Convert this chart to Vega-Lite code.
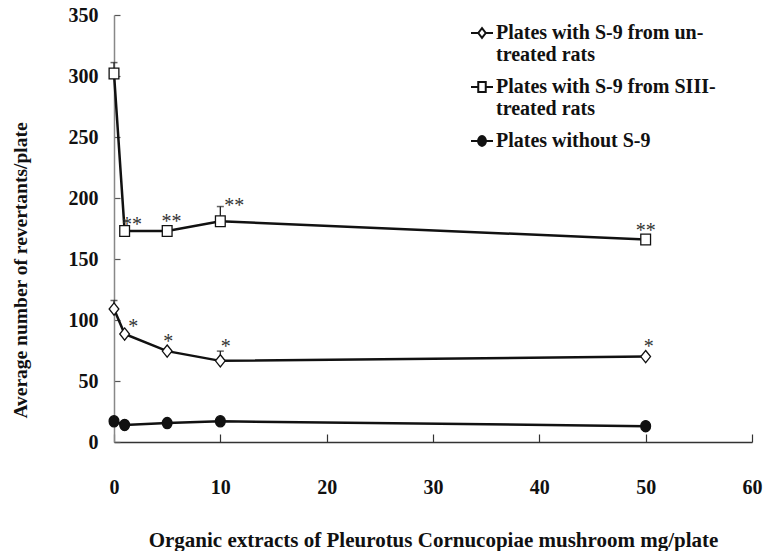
{
  "$schema": "https://vega.github.io/schema/vega-lite/v6.json",
  "width": 638,
  "height": 427,
  "autosize": "none",
  "padding": {"left": 114, "top": 15, "right": 11, "bottom": 109},
  "background": "white",
  "config": {
    "view": {"stroke": null},
    "font": "Liberation Serif",
    "legend": {
      "orient": "none",
      "legendX": 356,
      "legendY": 6,
      "padding": 0,
      "labelFont": "Liberation Serif",
      "labelFontSize": 20,
      "labelFontWeight": "bold",
      "labelColor": "#111",
      "labelLimit": 0,
      "labelOffset": 2,
      "symbolSize": 484,
      "symbolStrokeWidth": 2,
      "symbolStrokeColor": "#111",
      "rowPadding": 10
    }
  },
  "datasets": {
    "pts": [
      {"dose": 0, "rev": 109, "err": 116, "series": "Plates with S-9 from untreated rats"},
      {"dose": 1, "rev": 88.5, "series": "Plates with S-9 from untreated rats"},
      {"dose": 5, "rev": 74.5, "series": "Plates with S-9 from untreated rats"},
      {"dose": 10, "rev": 66.5, "err": 74.5, "series": "Plates with S-9 from untreated rats"},
      {"dose": 50, "rev": 70, "series": "Plates with S-9 from untreated rats"},
      {"dose": 0, "rev": 302, "err": 311, "series": "Plates with S-9 from SIII-treated rats"},
      {"dose": 1, "rev": 173, "series": "Plates with S-9 from SIII-treated rats"},
      {"dose": 5, "rev": 173, "series": "Plates with S-9 from SIII-treated rats"},
      {"dose": 10, "rev": 181, "err": 193, "series": "Plates with S-9 from SIII-treated rats"},
      {"dose": 50, "rev": 166, "series": "Plates with S-9 from SIII-treated rats"},
      {"dose": 0, "rev": 17, "series": "Plates without S-9"},
      {"dose": 1, "rev": 14, "series": "Plates without S-9"},
      {"dose": 5, "rev": 15.5, "series": "Plates without S-9"},
      {"dose": 10, "rev": 17, "series": "Plates without S-9"},
      {"dose": 50, "rev": 13, "series": "Plates without S-9"}
    ],
    "stars": [
      {"dose": 1.7, "rev": 181, "sig": "**"},
      {"dose": 5.4, "rev": 184, "sig": "**"},
      {"dose": 11.3, "rev": 197, "sig": "**"},
      {"dose": 50, "rev": 176, "sig": "**"},
      {"dose": 1.8, "rev": 97.5, "sig": "*"},
      {"dose": 5.1, "rev": 85, "sig": "*"},
      {"dose": 10.5, "rev": 81, "sig": "*"},
      {"dose": 50.3, "rev": 81, "sig": "*"}
    ]
  },
  "layer": [
    {
      "data": {"name": "pts"},
      "mark": {"type": "line", "stroke": "#111", "strokeWidth": 2.5},
      "encoding": {
        "x": {
          "field": "dose", "type": "quantitative",
          "scale": {"domain": [0, 60], "nice": false, "zero": false},
          "axis": {
            "values": [0, 10, 20, 30, 40, 50, 60],
            "grid": false,
            "domainColor": "#333", "domainWidth": 1.5,
            "tickColor": "#333", "tickWidth": 1.2, "tickSize": -8,
            "labelFont": "Liberation Serif", "labelFontSize": 20, "labelFontWeight": "bold", "labelColor": "#111",
            "labelPadding": 43, "labelFlush": false,
            "title": "Organic extracts of Pleurotus Cornucopiae mushroom mg/plate",
            "titleFont": "Liberation Serif", "titleFontSize": 21, "titleFontWeight": "bold", "titleColor": "#111",
            "titleY": 98, "titleBaseline": "middle"
          }
        },
        "y": {
          "field": "rev", "type": "quantitative",
          "scale": {"domain": [0, 350], "nice": false},
          "axis": {
            "values": [0, 50, 100, 150, 200, 250, 300, 350],
            "grid": false,
            "domainColor": "#888", "domainWidth": 1.5,
            "tickColor": "#555", "tickWidth": 1.2, "tickSize": -6,
            "labelFont": "Liberation Serif", "labelFontSize": 20, "labelFontWeight": "bold", "labelColor": "#111",
            "labelPadding": 22,
            "title": "Average number of revertants/plate",
            "titleFont": "Liberation Serif", "titleFontSize": 19.5, "titleFontWeight": "bold", "titleColor": "#111",
            "titleX": -94, "titleY": 255, "titleAlign": "center", "titleBaseline": "middle"
          }
        },
        "detail": {"field": "series"}
      }
    },
    {
      "data": {"name": "pts"},
      "transform": [{"filter": "isValid(datum.err)"}],
      "mark": {"type": "rule", "stroke": "#222", "strokeWidth": 1.3},
      "encoding": {
        "x": {"field": "dose", "type": "quantitative"},
        "y": {"field": "rev", "type": "quantitative"},
        "y2": {"field": "err"}
      }
    },
    {
      "data": {"name": "pts"},
      "transform": [{"filter": "isValid(datum.err)"}],
      "mark": {"type": "tick", "orient": "horizontal", "color": "#222", "size": 7, "thickness": 1.5},
      "encoding": {
        "x": {"field": "dose", "type": "quantitative"},
        "y": {"field": "err", "type": "quantitative"}
      }
    },
    {
      "data": {"name": "pts"},
      "mark": {"type": "point", "size": 95, "strokeWidth": 1.3, "stroke": "#111", "opacity": 1},
      "encoding": {
        "x": {"field": "dose", "type": "quantitative"},
        "y": {"field": "rev", "type": "quantitative"},
        "shape": {
          "field": "series", "type": "nominal",
          "scale": {
            "domain": ["Plates with S-9 from untreated rats", "Plates with S-9 from SIII-treated rats", "Plates without S-9"],
            "range": ["M0,-1.25L1,0L0,1.25L-1,0Z", "M-1,-1.1H1V1.1H-1Z", "M-1,0A1,1.15,0,1,0,1,0A1,1.15,0,1,0,-1,0Z"]
          },
          "legend": null
        },
        "fill": {
          "field": "series", "type": "nominal",
          "scale": {
            "domain": ["Plates with S-9 from untreated rats", "Plates with S-9 from SIII-treated rats", "Plates without S-9"],
            "range": ["white", "white", "#111"]
          },
          "legend": null
        }
      }
    },
    {
      "data": {"name": "pts"},
      "transform": [{"filter": "false"}],
      "mark": {"type": "point", "stroke": "#111", "strokeWidth": 2, "opacity": 1},
      "encoding": {
        "x": {"field": "dose", "type": "quantitative"},
        "y": {"field": "rev", "type": "quantitative"},
        "shape": {
          "field": "series", "type": "nominal",
          "scale": {
            "domain": ["Plates with S-9 from untreated rats", "Plates with S-9 from SIII-treated rats", "Plates without S-9"],
            "range": [
              "M-1,0H-0.34M0.34,0H1M0,-0.45L0.34,0L0,0.45L-0.34,0Z",
              "M-1,0H-0.34M0.34,0H1M-0.34,-0.45H0.34V0.45H-0.34Z",
              "M-1,0H1M-0.36,0A0.36,0.45,0,1,0,0.36,0A0.36,0.45,0,1,0,-0.36,0ZM-0.27,0A0.27,0.34,0,1,0,0.27,0A0.27,0.34,0,1,0,-0.27,0ZM-0.18,0A0.18,0.23,0,1,0,0.18,0A0.18,0.23,0,1,0,-0.18,0ZM-0.09,0A0.09,0.12,0,1,0,0.09,0A0.09,0.12,0,1,0,-0.09,0Z"
            ]
          },
          "legend": {
            "title": null,
            "labelExpr": "datum.label == 'Plates with S-9 from untreated rats' ? ['Plates with S-9 from un-', 'treated rats'] : datum.label == 'Plates with S-9 from SIII-treated rats' ? ['\u00a0Plates with S-9 from SIII-', 'treated rats'] : datum.label",
            "symbolSize": 484,
            "symbolStrokeWidth": 2,
            "symbolFillColor": "white"
          }
        }
      }
    },
    {
      "data": {"name": "stars"},
      "mark": {"type": "text", "font": "Liberation Serif", "fontSize": 20, "color": "#333", "baseline": "alphabetic", "dy": 10},
      "encoding": {
        "x": {"field": "dose", "type": "quantitative"},
        "y": {"field": "rev", "type": "quantitative"},
        "text": {"field": "sig"}
      }
    }
  ],
  "resolve": {"scale": {"shape": "independent", "fill": "independent"}, "legend": {"shape": "independent"}}
}
